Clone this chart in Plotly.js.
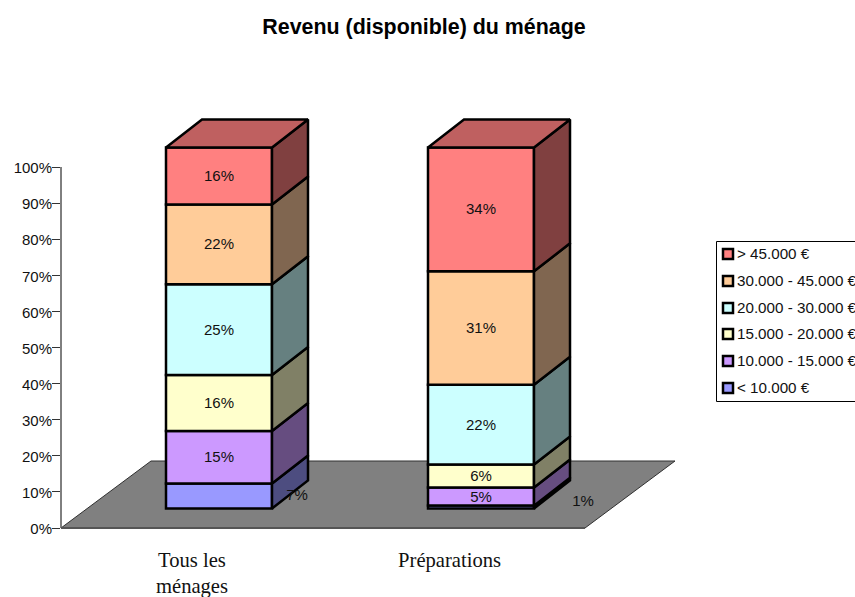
<!DOCTYPE html>
<html>
<head>
<meta charset="utf-8">
<script src="https://cdn.plot.ly/plotly-3.0.1.min.js"></script>
<style>html,body{margin:0;padding:0;background:#fff;overflow:hidden}</style>
</head>
<body>
<div id="chart" style="width:855px;height:597px"></div>
<script>
// --- data (percent shares, bottom segment first) ---
const categories = ['Tous les<br>ménages', 'Préparations'];
const seriesNames = ['< 10.000 €', '10.000 - 15.000 €', '15.000 - 20.000 €', '20.000 - 30.000 €', '30.000 - 45.000 €', '> 45.000 €'];
const under10k = [6.9, 0.8];
const from10to15k = [14.6, 5.0];
const from15to20k = [15.5, 6.4];
const from20to30k = [25.1, 22.1];
const from30to45k = [22.1, 31.4];
const over45k = [15.8, 34.3];
const seriesValues = [under10k, from10to15k, from15to20k, from20to30k, from30to45k, over45k];
const yTicks = [0,10,20,30,40,50,60,70,80,90,100];

// --- style ---
const faceColors = ['#9999FF','#CC99FF','#FFFFCC','#CCFFFF','#FFCC99','#FF8080'];
const sideColors = ['#4D4D80','#664D80','#808066','#668080','#806650','#804040'];
const topColor = '#BF6060';
const sans = 'Liberation Sans, Arial, sans-serif';
const serif = 'Liberation Serif, Times New Roman, serif';
const ink = '#111111';

// --- pseudo-3D geometry, in axis units ---
const pxX = 262, pxY = 3.61;            // pixels per axis unit
const frontDx = 27/pxX, frontDy = 5.4;  // bar front plane relative to the axis plane
const depthDx = 36/pxX, depthDy = 28/pxY;
const floorDx = 90/pxX, floorDy = 67/pxY;
const barW = 106/pxX;
const lw = 2.5;
const tickPos = [0, 0.983];
const labelNudge = -0.36;
const offLabel = {0:[[78/pxX,0.3],[102/pxX,1.7]]}; // labels set beside the small bottom segments

const plotL = 61, plotR = 690, plotT = 110, plotB = 532;
const xRange = [-0.5, -0.5 + (plotR-plotL)/pxX];
const yRange = [-(plotB-528)/pxY, (528-plotT)/pxY];
const px = v => (v-plotL)/(plotR-plotL);
const py = v => (plotB-v)/(plotB-plotT);

// normalise each stack to 100%
const totals = categories.map((_,c)=>seriesValues.reduce((s,v)=>s+v[c],0));
const norm = seriesValues.map(v=>v.map((y,c)=>y/totals[c]*100));
const bases = norm.map((_,i)=>categories.map((_,c)=>{
  let s = frontDy; for(let k=0;k<i;k++) s+=norm[k][c]; return s;
}));
const centers = categories.map((_,c)=>c+frontDx);

const traces = [];
// front faces: real stacked bars
norm.forEach((v,i)=>{
  traces.push({type:'bar', x:centers, y:v, base:bases[i], width:barW, name:seriesNames[i],
    marker:{color:faceColors[i], line:{color:'#000',width:lw}}, hoverinfo:'skip', showlegend:false});
});
// side faces and top
categories.forEach((_,c)=>{
  const xr = centers[c]+barW/2, xl = centers[c]-barW/2;
  norm.forEach((v,i)=>{
    const y0 = bases[i][c], y1 = y0+v[c];
    traces.push({type:'scatter', mode:'lines', fill:'toself', fillcolor:sideColors[i],
      x:[xr,xr+depthDx,xr+depthDx,xr,xr], y:[y0,y0+depthDy,y1+depthDy,y1,y0],
      line:{color:'#000',width:lw}, hoverinfo:'skip', showlegend:false});
  });
  const t = bases[5][c]+norm[5][c];
  traces.push({type:'scatter', mode:'lines', fill:'toself', fillcolor:topColor,
    x:[xl,xr,xr+depthDx,xl+depthDx,xl], y:[t,t,t+depthDy,t+depthDy,t],
    line:{color:'#000',width:lw}, hoverinfo:'skip', showlegend:false});
});
// value labels
norm.forEach((v,i)=>{
  const lx=[], ly=[], lt=[];
  categories.forEach((_,c)=>{
    const off = offLabel[i] ? offLabel[i][c] : [0,0];
    lx.push(centers[c]+off[0]);
    ly.push(bases[i][c]+v[c]/2+off[1]+labelNudge);
    lt.push(Math.round(seriesValues[i][c])+'%');
  });
  traces.push({type:'scatter', mode:'text', x:lx, y:ly, text:lt, textposition:'middle center',
    textfont:{family:sans,size:15,color:ink}, hoverinfo:'skip', showlegend:false});
});

// floor + y axis line + legend frame
const fx0=-0.5, fx1=1.5;
const shapes = [
  {type:'path', layer:'below', xref:'x', yref:'y',
   path:`M ${fx0} 0 L ${fx1} 0 L ${fx1+floorDx} ${floorDy} L ${fx0+floorDx} ${floorDy} Z`,
   fillcolor:'#808080', line:{color:'#303030',width:1}},
  {type:'line', layer:'below', xref:'x', yref:'y', x0:fx0, x1:fx1, y0:0, y1:0, line:{color:'#555',width:2}},
  {type:'line', layer:'below', xref:'paper', yref:'y', x0:0, x1:0, y0:0, y1:100, line:{color:'#000',width:1}},
  {type:'rect', layer:'above', xref:'paper', yref:'paper', x0:px(716.5), x1:px(870), y0:py(241.5), y1:py(401.5),
   fillcolor:'#fff', line:{color:'#000',width:1}}
];
const legendY = [388,361,334,308,281,254];
const annotations = [];
seriesNames.forEach((n,i)=>{
  const y = legendY[i];
  shapes.push({type:'rect', layer:'above', xref:'paper', yref:'paper',
    x0:px(723), x1:px(733), y0:py(y-5), y1:py(y+5), fillcolor:faceColors[i], line:{color:'#000',width:2.5}});
  annotations.push({xref:'paper', yref:'paper', x:px(735), y:py(y-0.5), xanchor:'left', yanchor:'middle',
    text:n.replace('<','&lt;').replace('>','&gt;'), showarrow:false, font:{family:sans,size:15.2,color:ink}});
});

const layout = {
  width:855, height:597, paper_bgcolor:'#fff', plot_bgcolor:'rgba(0,0,0,0)',
  margin:{l:plotL, r:855-plotR, t:plotT, b:597-plotB},
  barmode:'overlay', showlegend:false, hovermode:false,
  title:{text:'<b>Revenu (disponible) du ménage</b>', xref:'container', yref:'container',
    x:424/855, y:1-27/597, xanchor:'center', yanchor:'middle', font:{family:sans,size:21.4,color:'#000'}},
  xaxis:{range:xRange, tickmode:'array', tickvals:tickPos, ticktext:categories, showgrid:false, zeroline:false,
    showline:false, ticks:'', ticklabelstandoff:13, tickangle:0, fixedrange:true,
    tickfont:{family:serif,size:20.6,color:ink}},
  yaxis:{range:yRange, tickmode:'array', tickvals:yTicks, ticktext:yTicks.map(t=>t+'%'), showgrid:false, zeroline:false,
    showline:false, ticks:'outside', ticklen:8, tickwidth:1, tickcolor:'#333', ticklabelstandoff:-3, ticklabelshift:1, fixedrange:true,
    tickfont:{family:sans,size:15,color:ink}},
  shapes, annotations
};
Plotly.newPlot('chart', traces, layout, {displayModeBar:false, staticPlot:true});
</script>
</body>
</html>
